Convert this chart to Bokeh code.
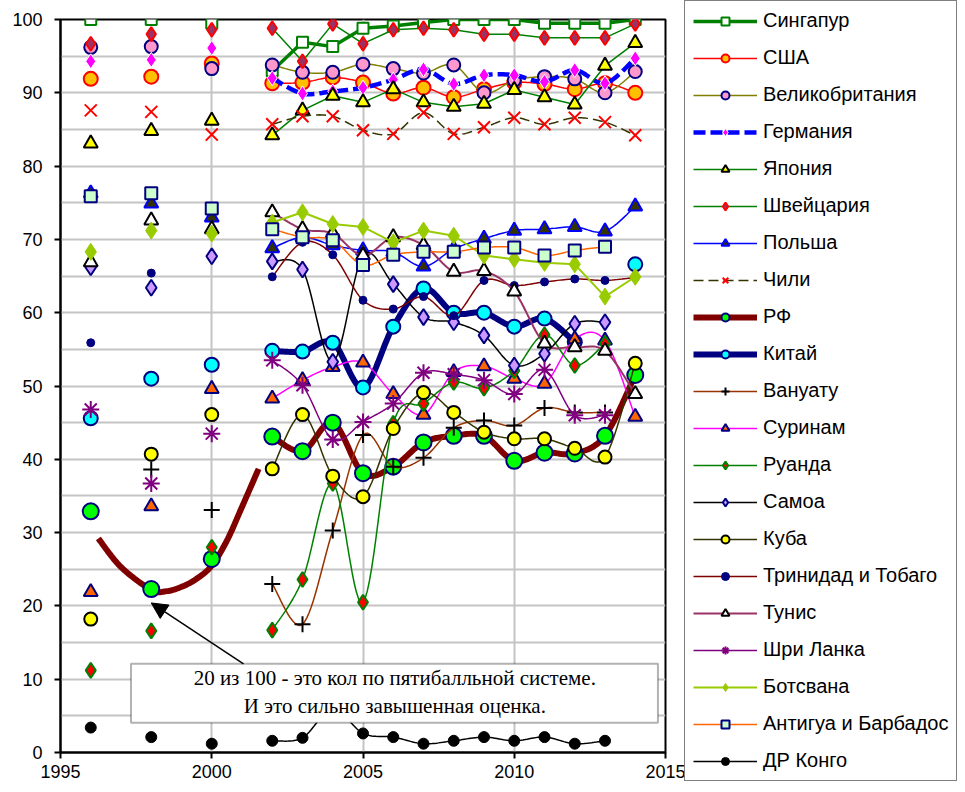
import numpy as np
from bokeh.plotting import figure
from bokeh.models import (Range1d, SingleIntervalTicker, Legend, LegendItem,
                          BoxAnnotation, Label, Arrow, NormalHead)
from bokeh.embed import file_html
from bokeh.resources import INLINE

# ---------------- data ----------------
years = [1996, 1998, 2000, 2002, 2003, 2004, 2005, 2006, 2007, 2008,
         2009, 2010, 2011, 2012, 2013, 2014]

singapore = [100, 100, 99.5, 93, 96.9, 96.3, 98.8, 99.1, 99.6, 100, 100, 100, 99.5, 99.5, 99.5, 100]
usa = [91.9, 92.2, 94, 91.3, 91.4, 92.1, 91.4, 89.9, 90.7, 89.4, 90.5, 91.4, 91.2, 90.5, 91.3, 90]
uk = [96.2, 96.3, 93.3, 93.8, 92.8, 92.8, 93.9, 93.3, 92.7, 93.8, 90, 91.7, 92.2, 91.9, 90, 92.9]
germany = [94.3, 94.5, 96.1, 92, 89.9, 90.2, 90.7, 91.8, 93.2, 91.2, 92.4, 92.4, 91.5, 93.1, 91.3, 94.7]
japan = [83.1, 84.8, 86.2, 84.2, 87.6, 89.6, 88.7, 90.5, 88.7, 88.1, 88.5, 90.4, 89.4, 88.4, 93.7, 96.8]
switzerland = [96.7, 98, 98.6, 98.8, 94.3, 99.4, 96.7, 98.6, 98.8, 98.6, 98, 98, 97.5, 97.5, 97.5, 99.4]
poland = [76.3, 74.9, 73, 68.8, 70.3, 69.2, 68.5, 68.3, 66.3, 68.7, 70.1, 71.2, 71.4, 71.7, 71.1, 74.5]
chile = [87.6, 87.4, 84.3, 85.7, 86.8, 86.8, 84.9, 84.4, 87.3, 84.4, 85.3, 86.6, 85.7, 86.6, 86, 84.2]
russia = [32.9, 22.3, 26.4, 43.1, 41.1, 45, 38.1, 39, 42.3, 43.2, 43.2, 39.8, 40.9, 40.8, 43.2, 51.5]
china = [45.6, 51, 52.9, 54.8, 54.7, 55.9, 49.8, 58.1, 63.3, 60, 60, 58.1, 59.2, 56, None, 66.6]
vanuatu = [None, 38.6, 33.1, 23, 17.5, 30.3, 43.3, 39, 40.2, 44.3, 45.3, 44.6, 47, 46.4, 46.4, None]
suriname = [21.9, 33.6, 49.6, 48.3, 50.8, 52.6, 53.2, 48.9, 46.1, 51.9, 52.7, 51, 50.3, 56.4, 56.2, 45.8]
rwanda = [11.2, 16.6, 28, 16.7, 23.6, 36.7, 20.5, 44.9, 47.6, 50.5, 49.7, 52.1, 57, 52.8, 55.8, None]
samoa = [66.2, 63.4, 67.7, 67, 65.9, 53.3, 67.8, 63.9, 59.4, 58.7, 56.9, 52.8, 54.4, 58.5, 58.7, None]
cuba = [18.2, 40.7, 46.1, 38.7, 46.1, 37.7, 34.9, 44.2, 49.1, 46.4, 43.7, 42.8, 42.8, 41.5, 40.3, 53.1]
trinidad = [55.9, 65.4, None, 64.9, 69.6, 67.9, 61.7, 60.5, 62.2, 59.6, 64.4, 63.7, 64.2, 64.6, 64.4, 64.8]
tunisia = [66.9, 72.6, 71.4, 73.7, 71.4, 70.8, 67.8, 70.3, 69.2, 65.6, 65.7, 62.9, 55.8, 55.3, 54.8, 48.9]
srilanka = [46.8, 36.7, 43.5, 53.5, 50.1, 42.7, 45.1, 47.6, 51.8, 51.6, 50.8, 48.9, 52.2, 46, 46, None]
botswana = [68.3, 71.2, 70.8, 72.3, 73.7, 72.1, 71.7, 69.6, 71.2, 70.5, 67.8, 67.3, 66.8, 66.6, 62.2, 64.9]
antigua = [75.9, 76.3, 74.2, 71.4, 70.3, 69.9, 66.5, 67.9, 68.3, 68.3, 68.9, 68.9, 67.8, 68.5, 69, None]
drcongo = [3.4, 2.1, 1.2, 1.6, 2.0, 6.0, 2.6, 2.1, 1.2, 1.6, 2.1, 1.6, 2.1, 1.2, 1.6, None]

# hand-drawn curve for RF
trend_years = [1996.25, 1997, 1998, 1998.5, 1999, 1999.5, 2000, 2000.5, 2001, 2001.55]
trend_vals = [29.2, 25.3, 22.2, 22.0, 22.6, 23.7, 25.5, 28.9, 33.5, 38.7]

note_lines = ["20 из 100 - это кол по пятибалльной системе.",
              "И это сильно завышенная оценка."]

x_ticks = [1995, 2000, 2005, 2010, 2015]
y_ticks = [0, 10, 20, 30, 40, 50, 60, 70, 80, 90, 100]

# (name, values, line color, line width, dash, smooth, marker, size, fill, outline, marker line width)
series = [
    ("Сингапур", singapore, "#008000", 3.5, "solid", False, "square", 11, "white", "#008000", 2),
    ("США", usa, "#FF0000", 1.5, "solid", True, "circle", 14, "#FFC000", "#FF0000", 2),
    ("Великобритания", uk, "#808000", 1.5, "solid", True, "circle", 13, "#FF99CC", "#000080", 2),
    ("Германия", germany, "#0000FF", 4.5, "12 5", True, "diamond", 15, "#FF00FF", "white", 1),
    ("Япония", japan, "#008000", 1.5, "solid", False, "triangle", 14, "#FFFF00", "#000000", 2),
    ("Швейцария", switzerland, "#008000", 1.5, "solid", False, "diamond", 14, "#993366", "#FF0000", 2),
    ("Польша", poland, "#0000FF", 1.5, "solid", True, "triangle", 14, "#333300", "#0000FF", 2),
    ("Чили", chile, "#333300", 1.5, "10 5", True, "x", 17, None, "#FF0000", 2),
    ("РФ", russia, "#800000", 6, "solid", True, "circle", 16, "#00FF00", "#000080", 2),
    ("Китай", china, "#000080", 6, "solid", True, "circle", 14, "#00FFFF", "#000080", 2),
    ("Вануату", vanuatu, "#993300", 1.5, "solid", True, "cross", 16, None, "#000000", 2),
    ("Суринам", suriname, "#FF00FF", 1.5, "solid", True, "triangle", 14, "#FF6600", "#000080", 2),
    ("Руанда", rwanda, "#008000", 1.5, "solid", True, "diamond", 15, "#FF0000", "#008000", 2),
    ("Самоа", samoa, "#000000", 1.5, "solid", True, "diamond", 16, "#CC99FF", "#000080", 2),
    ("Куба", cuba, "#333300", 1.5, "solid", True, "circle", 13, "#FFFF00", "#000000", 2),
    ("Тринидад и Тобаго", trinidad, "#800000", 1.5, "solid", True, "circle", 8, "#000080", "#000080", 1),
    ("Тунис", tunisia, "#993366", 2, "solid", True, "triangle", 14, "white", "#000000", 2),
    ("Шри Ланка", srilanka, "#800080", 1.5, "solid", True, "asterisk", 17, None, "#800080", 2),
    ("Ботсвана", botswana, "#99CC00", 2, "solid", False, "diamond", 17, "#99CC00", "#99CC00", 1),
    ("Антигуа и Барбадос", antigua, "#FF6600", 1.5, "solid", True, "square", 12, "#CCFFCC", "#000080", 2),
    ("ДР Конго", drcongo, "#000000", 1.5, "solid", True, "circle", 11, "#000000", "#000000", 1),
]


def smooth(xs, ys, n=14):
    if len(xs) < 3:
        return list(xs), list(ys)
    pts = list(zip(xs, ys))
    ox, oy = [], []
    for i in range(len(pts) - 1):
        p0 = pts[i - 1] if i > 0 else pts[i]
        p1 = pts[i]
        p2 = pts[i + 1]
        p3 = pts[i + 2] if i + 2 < len(pts) else pts[i + 1]
        c1 = (p1[0] + (p2[0] - p0[0]) / 6, p1[1] + (p2[1] - p0[1]) / 6)
        c2 = (p2[0] - (p3[0] - p1[0]) / 6, p2[1] - (p3[1] - p1[1]) / 6)
        for t in np.linspace(0, 1, n, endpoint=False):
            a = (1 - t) ** 3
            b = 3 * (1 - t) ** 2 * t
            c = 3 * (1 - t) * t ** 2
            d = t ** 3
            ox.append(a * p1[0] + b * c1[0] + c * c2[0] + d * p2[0])
            oy.append(a * p1[1] + b * c1[1] + c * c2[1] + d * p2[1])
    ox.append(pts[-1][0])
    oy.append(pts[-1][1])
    return ox, oy


def segments(xs, ys, do_smooth):
    segs, cur = [], []
    prev = None
    for x, y in zip(xs, ys):
        if y is None:
            if len(cur) > 1:
                segs.append(cur)
            cur, prev = [], None
            continue
        if prev is not None and x - prev == 1:
            cur.append((x, y))
        else:
            if len(cur) > 1:
                segs.append(cur)
            cur = [(x, y)]
        prev = x
    if len(cur) > 1:
        segs.append(cur)
    mx, my = [], []
    for s in segs:
        sx, sy = [a for a, _ in s], [b for _, b in s]
        if do_smooth:
            sx, sy = smooth(sx, sy)
        mx.append(sx)
        my.append(sy)
    return mx, my


p = figure(frame_width=605, frame_height=733, output_backend="svg",
           toolbar_location=None, x_range=Range1d(1995, 2015), y_range=Range1d(0, 100),
           min_border_left=60, min_border_top=19, min_border_bottom=36, min_border_right=0,
           background_fill_color="white", border_fill_color="white")

p.outline_line_color = "black"
p.outline_line_width = 2

for ax in (p.xaxis[0], p.yaxis[0]):
    ax.axis_line_color = "black"
    ax.axis_line_width = 2
    ax.major_tick_line_color = "black"
    ax.major_tick_line_width = 2
    ax.major_tick_out = 6
    ax.major_tick_in = 0
    ax.minor_tick_line_color = None
    ax.major_label_text_font = "Liberation Sans"
    ax.major_label_text_font_size = "18px"
    ax.major_label_text_color = "black"

p.xaxis[0].ticker = x_ticks
p.yaxis[0].ticker = y_ticks
p.xaxis[0].major_label_standoff = 6
p.yaxis[0].major_label_standoff = 12

p.xgrid[0].ticker = SingleIntervalTicker(interval=5)
p.ygrid[0].ticker = SingleIntervalTicker(interval=5)
for g in (p.xgrid[0], p.ygrid[0]):
    g.grid_line_color = "#c4c4c4"
    g.grid_line_width = 2

# RF hand-drawn curve (behind the series)
tx, ty = smooth(trend_years, trend_vals)
p.line(tx, ty, line_color="#800000", line_width=6)

items = []
for (name, vals, lc, lw, dash, sm, mk, sz, fc, oc, mlw) in series:
    mx, my = segments(years, vals, sm)
    lr = p.multi_line(mx, my, line_color=lc, line_width=lw, line_dash=dash)
    yv = [np.nan if v is None else v for v in vals]
    sr = p.scatter(years, yv, marker=mk, size=sz, fill_color=fc, line_color=oc,
                   line_width=mlw)
    items.append(LegendItem(label=name, renderers=[lr, sr]))

legend = Legend(items=items, location=(19, -29), orientation="vertical",
                label_text_font="Liberation Sans", label_text_font_size="20px",
                label_text_color="black", glyph_width=64, glyph_height=20,
                label_height=20, label_standoff=6, spacing=14, padding=8,
                margin=0, border_line_color="black", border_line_width=1.5,
                background_fill_color="white", background_fill_alpha=1)
p.add_layout(legend, "right")

# annotation box and arrow
box = BoxAnnotation(left=1997.33, right=2014.75, bottom=4.05, top=12.1,
                    fill_color="white", fill_alpha=1, line_color="black", line_width=2)
p.add_layout(box)
p.add_layout(Arrow(end=NormalHead(size=16, fill_color="black", line_color="black"),
                   x_start=2001.05, y_start=12.1, x_end=1998.0, y_end=20.4,
                   line_color="black", line_width=1.5))
for txt, yy in zip(note_lines, [10.1, 6.4]):
    p.add_layout(Label(x=2006.05, y=yy, text=txt, text_align="center",
                       text_baseline="middle", text_font="Liberation Serif",
                       text_font_size="21px", text_color="black"))

open("out.html", "w").write(file_html(p, INLINE))
